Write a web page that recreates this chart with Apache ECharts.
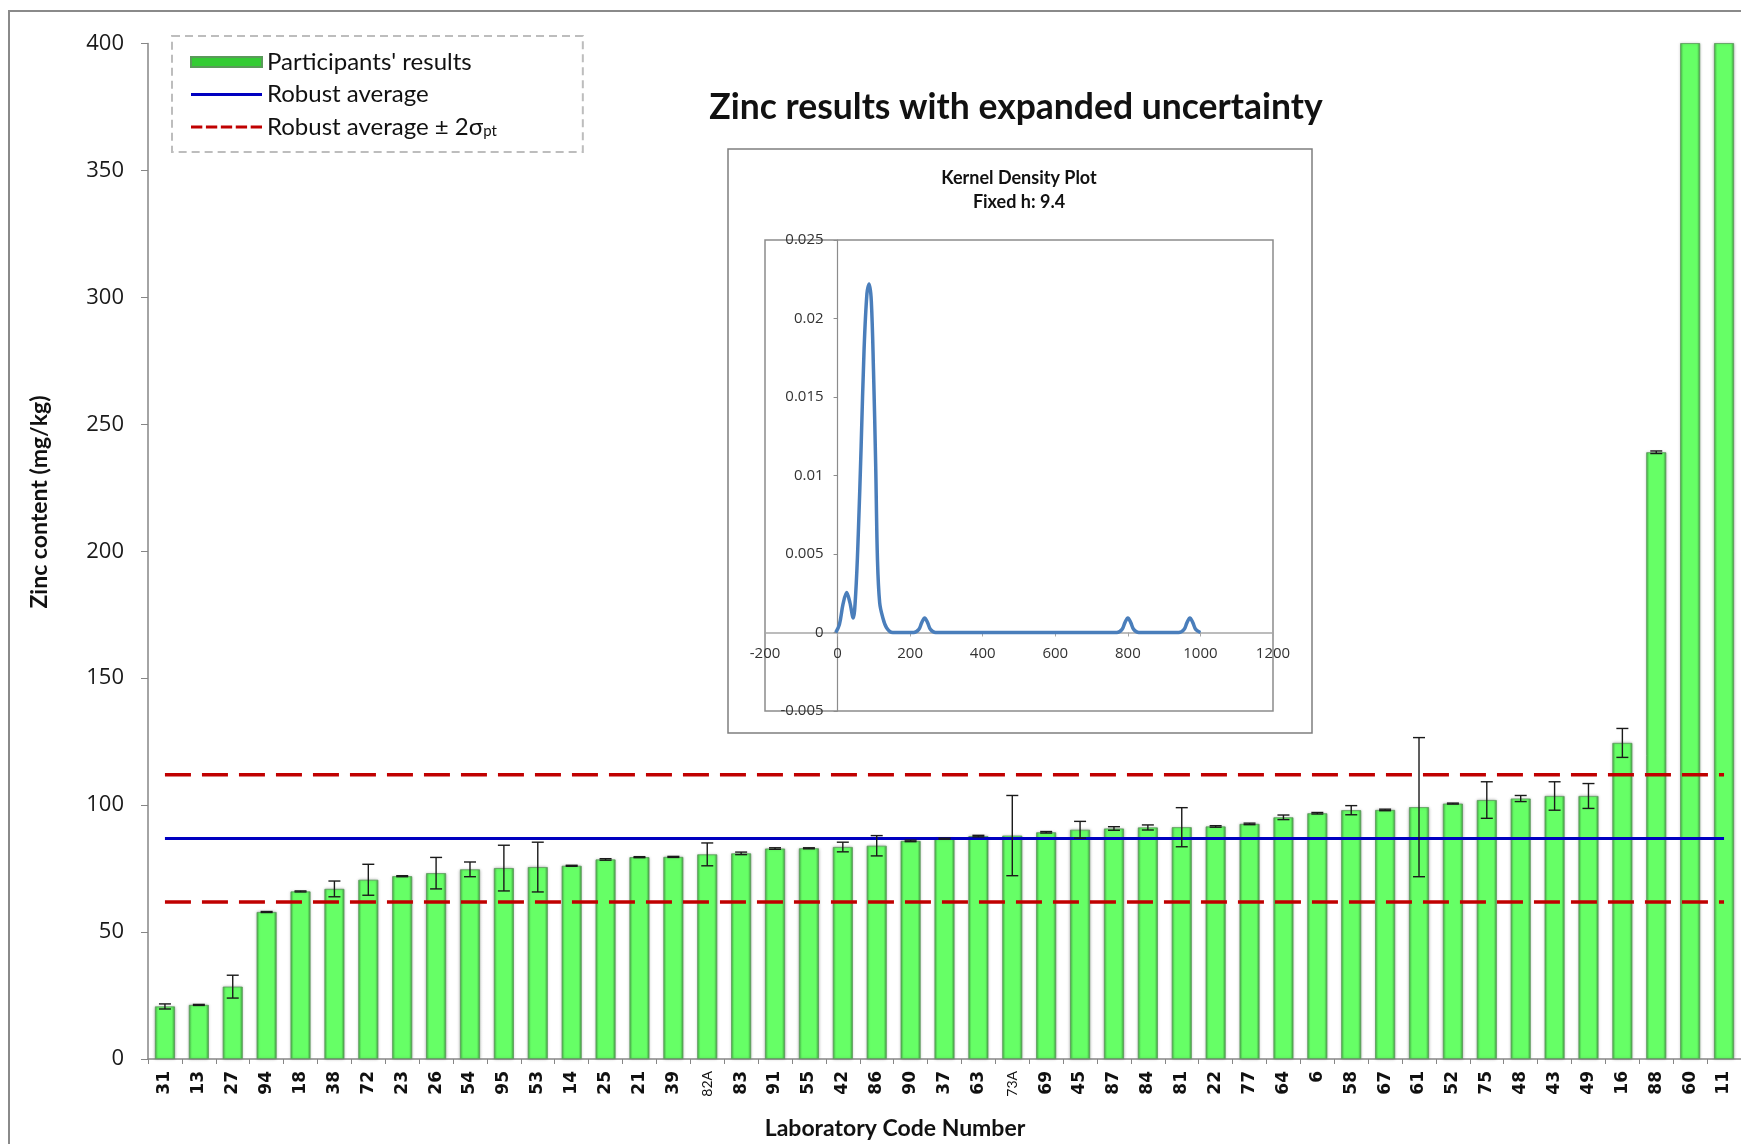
<!DOCTYPE html>
<html>
<head>
<meta charset="utf-8">
<title>Zinc results with expanded uncertainty</title>
<script src="https://cdn.jsdelivr.net/npm/echarts@6/dist/echarts.min.js"></script>
<style>
    html, body { margin: 0; padding: 0; background: #fff; }
    #main { width: 1741px; height: 1144px; }
</style>
</head>
<body>
<div id="main"></div>
<script>
// lab codes, in the order of the bars
var labCodes = ['31', '13', '27', '94', '18', '38', '72', '23', '26', '54', '95', '53', '14', '25', '21', '39',
    '82A', '83', '91', '55', '42', '86', '90', '37', '63', '73A', '69', '45', '87', '84', '81', '22',
    '77', '64', '6', '58', '67', '61', '52', '75', '48', '43', '49', '16', '88', '60', '11'];
// reported zinc result (mg/kg)
var zincValues = [20.7, 21.3, 28.5, 57.9, 66.0, 67.0, 70.6, 72.0, 73.2, 74.7, 75.2, 75.6, 76.1, 78.6, 79.5, 79.6,
    80.6, 81.0, 82.9, 83.0, 83.5, 84.0, 85.9, 86.8, 87.8, 88.0, 89.3, 90.3, 90.8, 91.2, 91.3, 91.6,
    92.6, 95.2, 96.8, 98.0, 98.1, 99.2, 100.6, 102.0, 102.6, 103.6, 103.6, 124.5, 239.0, 800, 970];
// expanded uncertainty (+/-)
var expandedU = [1.0, 0.2, 4.5, 0.2, 0.2, 3.1, 6.1, 0.2, 6.2, 2.9, 9.0, 9.8, 0.2, 0.3, 0.2, 0.2,
    4.5, 0.5, 0.3, 0.2, 1.9, 4.0, 0.3, 0.2, 0.3, 15.8, 0.3, 3.3, 0.7, 1.0, 7.7, 0.3,
    0.3, 0.9, 0.3, 1.8, 0.3, 27.4, 0.2, 7.2, 1.2, 5.6, 4.9, 5.7, 0.5, 0, 0];
// assigned value and limits
var robustAvg = 86.9;
var lowerLimit = 61.8;
var upperLimit = 112.0;
// y axis ticks
var zincTicks = [0, 50, 100, 150, 200, 250, 300, 350, 400];

// kernel density curve
var kdeX = [-5, 5, 15, 25, 34, 43, 50, 57, 65, 73, 81, 87, 93, 99, 105, 110, 116, 124, 135, 152,
    210, 224, 232, 240, 248, 256, 270, 770, 784, 792, 800, 808, 816, 830, 940, 955, 963, 971, 979, 987, 1000];
var kdeY = [0, 0.0005, 0.0018, 0.00255, 0.0019, 0.00092, 0.0025, 0.0062, 0.0119, 0.018, 0.0216, 0.0222, 0.0211,
    0.0167, 0.0107, 0.0046, 0.0019, 0.001, 0.0003, 0,
    0, 0.0002, 0.00063, 0.00092, 0.00063, 0.0002, 0, 0, 0.0002, 0.00063, 0.00092, 0.00063, 0.0002, 0,
    0, 0.0002, 0.00063, 0.00092, 0.00063, 0.0002, 0];
var kdeXTicks = [-200, 0, 200, 400, 600, 800, 1000, 1200];
var kdeYTicks = [-0.005, 0, 0.005, 0.01, 0.015, 0.02, 0.025];

(function () {
    var barName = "Participants' results";
    var avgName = 'Robust average';
    var bandName = 'Robust average \u00b1 2\u03c3pt';
    var last = labCodes.length - 1;

    // inset plot box
    var inset = { left: 765, top: 240, width: 508, height: 471 };
    var kxMin = kdeXTicks[0], kxMax = kdeXTicks[kdeXTicks.length - 1];
    var kyMin = kdeYTicks[0], kyMax = kdeYTicks[kdeYTicks.length - 1];
    // axes cross at zero like in Excel: shift them into the plot
    var xAxisShift = -inset.height * (0 - kyMin) / (kyMax - kyMin);
    var yAxisShift = -inset.width * (0 - kxMin) / (kxMax - kxMin);

    // category labels, the two "A" codes are printed smaller
    var catData = labCodes.map(function (c) {
        if (c.indexOf('A') > -1) {
            return { value: c, textStyle: { fontFamily: 'Lato', fontWeight: 'normal', fontSize: 14 } };
        }
        return c;
    });

    // error bars: [index, low, high]
    var errData = [];
    zincValues.forEach(function (v, i) {
        if (expandedU[i] > 0) errData.push([i, v - expandedU[i], v + expandedU[i]]);
    });

    var kdeData = kdeX.map(function (x, i) { return [x, kdeY[i]]; });

    var option = {
        backgroundColor: '#fff',
        animation: false,
        title: [{
            text: 'Zinc results with expanded uncertainty',
            left: 1016, top: 88, textAlign: 'center', padding: 0,
            textStyle: { fontFamily: 'Lato', fontWeight: 'bold', fontSize: 35.5, lineHeight: 40, color: '#111' }
        }, {
            text: 'Kernel Density Plot\nFixed h: 9.4',
            left: 1019, top: 166, textAlign: 'center', padding: 0,
            textStyle: { fontFamily: 'Lato', fontWeight: 'bold', fontSize: 18, lineHeight: 24, color: '#111' }
        }],
        legend: {
            orient: 'vertical',
            left: 172, top: 36,
            padding: [14, 86, 13, 18],
            itemWidth: 71, itemHeight: 10, itemGap: 8.5,
            borderColor: '#bdbdbd', borderWidth: 2, borderType: [8, 5],
            textStyle: {
                fontFamily: 'Lato', fontSize: 24, color: '#111', lineHeight: 24,
                rich: { sub: { fontFamily: 'Lato', fontSize: 15, color: '#111', lineHeight: 10, verticalAlign: 'bottom' } }
            },
            formatter: function (name) {
                if (name === bandName) return 'Robust average \u00b1 2\u03c3{sub|pt}';
                return name;
            },
            data: [
                { name: barName, icon: 'rect', itemStyle: { color: '#33cc33' } },
                { name: avgName, icon: 'path://M0,0h70v3h-70z', itemStyle: { color: '#0000c0' } },
                { name: bandName, icon: 'path://M0,0h11v3h-11zM14.5,0h11v3h-11zM29,0h11v3h-11zM43.5,0h11v3h-11zM58,0h11v3h-11z', itemStyle: { color: '#c00000' } }
            ]
        },
        graphic: [
            // outer chart frame
            { type: 'rect', shape: { x: 9, y: 11, width: 1800, height: 1200 }, style: { fill: 'none', stroke: '#8a8a8a', lineWidth: 2 }, silent: true },
            // inset frame
            { type: 'rect', shape: { x: 728, y: 149, width: 584, height: 584 }, style: { fill: 'none', stroke: '#7f7f7f', lineWidth: 1.5 }, silent: true },
            // axis names
            { type: 'text', x: 40, y: 502, rotation: Math.PI / 2,
              style: { text: 'Zinc content (mg/kg)', font: 'bold 23px Lato', fill: '#111', align: 'center', verticalAlign: 'middle' } },
            { type: 'text', x: 895, y: 1129,
              style: { text: 'Laboratory Code Number', font: 'bold 23px Lato', fill: '#111', align: 'center', verticalAlign: 'middle' } }
        ],
        grid: [
            { left: 148, right: -3, top: 43.5, bottom: 85 },
            { left: inset.left, top: inset.top, width: inset.width, height: inset.height,
              show: true, borderColor: '#8c8c8c', borderWidth: 1.5, backgroundColor: '#fff' }
        ],
        xAxis: [{
            type: 'category',
            data: catData,
            axisLine: { lineStyle: { color: '#868686', width: 1.5 } },
            axisTick: { show: true, length: 5, interval: 0, lineStyle: { color: '#868686' } },
            axisLabel: { interval: 0, rotate: 90, margin: 12, fontFamily: 'DejaVu Sans', fontWeight: 'bold', fontSize: 17, color: '#111' }
        }, {
            type: 'value', gridIndex: 1,
            min: kxMin, max: kxMax, interval: 200,
            offset: xAxisShift,
            axisLine: { onZero: false, lineStyle: { color: '#a6a6a6', width: 1.5 } },
            axisTick: { show: true, length: 4, lineStyle: { color: '#a6a6a6' } },
            axisLabel: {
                fontFamily: 'Open Sans', fontSize: 15, color: '#333', margin: 14,
                formatter: function (v) { return String(v); }
            },
            splitLine: { show: false }
        }],
        yAxis: [{
            type: 'value',
            min: zincTicks[0], max: zincTicks[zincTicks.length - 1], interval: 50,
            axisLine: { show: true, lineStyle: { color: '#868686', width: 1.5 } },
            axisTick: { show: true, length: 7, lineStyle: { color: '#868686' } },
            axisLabel: { fontFamily: 'Open Sans', fontSize: 22, color: '#1a1a1a', margin: 24 },
            splitLine: { show: false }
        }, {
            type: 'value', gridIndex: 1,
            min: kyMin, max: kyMax, interval: 0.005,
            offset: yAxisShift,
            axisLine: { show: true, onZero: false, lineStyle: { color: '#8c8c8c', width: 1.2 } },
            axisTick: { show: true, length: 4, lineStyle: { color: '#8c8c8c' } },
            axisLabel: { fontFamily: 'Open Sans', fontSize: 15, color: '#333', margin: 14 },
            splitLine: { show: false }
        }],
        series: [{
            name: barName,
            type: 'bar',
            barWidth: 20,
            data: zincValues,
            itemStyle: {
                color: new echarts.graphic.LinearGradient(0, 0, 1, 0, [
                    { offset: 0, color: '#48b048' },
                    { offset: 0.15, color: '#66ff66' },
                    { offset: 0.85, color: '#66ff66' },
                    { offset: 1, color: '#45a045' }
                ]),
                borderColor: '#5a9a5a', borderWidth: 0.8,
                shadowColor: 'rgba(0,0,0,0.25)', shadowBlur: 3
            }
        }, {
            // error bars
            type: 'custom',
            data: errData,
            encode: { x: 0, y: [1, 2] },
            z: 5,
            renderItem: function (params, api) {
                var lo = api.coord([api.value(0), api.value(1)]);
                var hi = api.coord([api.value(0), api.value(2)]);
                var w = 6;
                var st = { stroke: '#1a1a1a', lineWidth: 1.4 };
                return {
                    type: 'group',
                    children: [
                        { type: 'line', shape: { x1: lo[0], y1: lo[1], x2: hi[0], y2: hi[1] }, style: st },
                        { type: 'line', shape: { x1: lo[0] - w, y1: lo[1], x2: lo[0] + w, y2: lo[1] }, style: st },
                        { type: 'line', shape: { x1: hi[0] - w, y1: hi[1], x2: hi[0] + w, y2: hi[1] }, style: st }
                    ]
                };
            }
        }, {
            name: avgName,
            type: 'line',
            symbol: 'none',
            data: [[0, robustAvg], [last, robustAvg]],
            itemStyle: { color: '#0000c0' },
            lineStyle: { color: '#0000c0', width: 3 },
            z: 4
        }, {
            name: bandName,
            type: 'line',
            symbol: 'none',
            data: [[0, upperLimit], [last, upperLimit]],
            itemStyle: { color: '#c00000' },
            lineStyle: { color: '#c00000', width: 3.5, type: [26, 11] },
            z: 4
        }, {
            name: bandName,
            type: 'line',
            symbol: 'none',
            data: [[0, lowerLimit], [last, lowerLimit]],
            itemStyle: { color: '#c00000' },
            lineStyle: { color: '#c00000', width: 3.5, type: [26, 11] },
            z: 4
        }, {
            // kernel density inset
            name: 'kde',
            type: 'line',
            xAxisIndex: 1, yAxisIndex: 1,
            symbol: 'none',
            smooth: 0.35,
            data: kdeData,
            lineStyle: { color: '#4a7ebb', width: 3.5 },
            itemStyle: { color: '#4a7ebb' }
        }]
    };

    var myechart = echarts.init(document.getElementById('main'));
    myechart.setOption(option);
})();
</script>
</body>
</html>
